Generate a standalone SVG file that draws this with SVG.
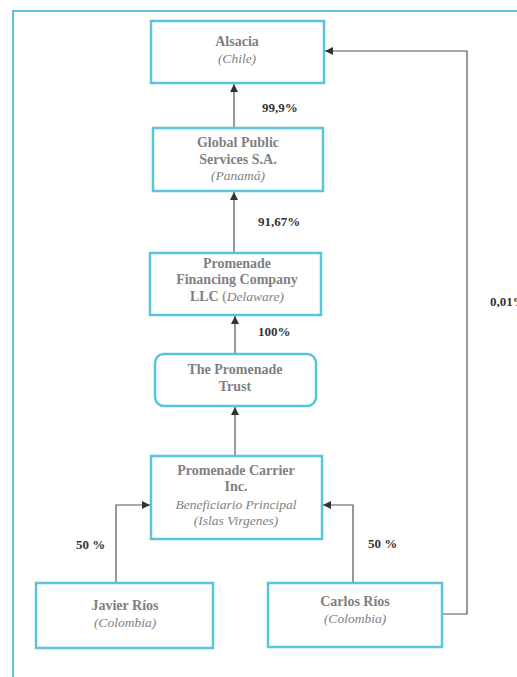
<svg xmlns="http://www.w3.org/2000/svg" width="517" height="677" viewBox="0 0 517 677">
<style>
.box{fill:#fff;stroke:#5bc4dc;stroke-width:2.5}
.t{font-family:"Liberation Serif","Times New Roman",serif;font-size:14px;fill:#7f7f7f;text-anchor:middle}
.b{font-weight:bold}
.i{font-style:italic;font-size:13.5px}
.p{font-family:"Liberation Serif","Times New Roman",serif;font-size:13px;font-weight:bold;fill:#333}
.c{fill:none;stroke:#555;stroke-width:1.2}
</style>
<defs>
<marker id="ah" viewBox="0 0 10 10" refX="10" refY="5" markerWidth="8" markerHeight="8" markerUnits="userSpaceOnUse" orient="auto">
<path d="M0,0L10,5L0,10z" fill="#333"/>
</marker>
</defs>
<rect width="517" height="677" fill="#fff"/>
<path d="M13,677V11H517" fill="none" stroke="#5bc4dc" stroke-width="2"/>
<g id="connectors">
<path class="c" d="M234,128V84" marker-end="url(#ah)"/>
<path class="c" d="M234,253V192" marker-end="url(#ah)"/>
<path class="c" d="M235,354V316" marker-end="url(#ah)"/>
<path class="c" d="M235,456V407" marker-end="url(#ah)"/>
<path class="c" d="M116,583V505H150" marker-end="url(#ah)"/>
<path class="c" d="M353,583V505H323" marker-end="url(#ah)"/>
<path class="c" d="M442,614H467V51H325" marker-end="url(#ah)"/>
<text class="p" x="262" y="112">99,9%</text>
<text class="p" x="258" y="226">91,67%</text>
<text class="p" x="258" y="336">100%</text>
<text class="p" x="76" y="549">50 %</text>
<text class="p" x="368" y="548">50 %</text>
<text class="p" x="490" y="306">0,01%</text>
</g>
<g id="alsacia">
<rect class="box" x="151" y="21" width="173" height="62"/>
<text class="t b" x="237" y="46">Alsacia</text>
<text class="t i" x="237" y="63">(Chile)</text>
</g>
<g id="global">
<rect class="box" x="153" y="128" width="170" height="63"/>
<text class="t b" x="238" y="147">Global Public</text>
<text class="t b" x="238" y="164">Services S.A.</text>
<text class="t i" x="238" y="180">(Panamá)</text>
</g>
<g id="financing">
<rect class="box" x="150" y="253" width="171" height="62"/>
<text class="t b" x="237" y="268">Promenade</text>
<text class="t b" x="237" y="284">Financing Company</text>
<text class="t" x="237" y="301"><tspan class="b">LLC</tspan> (<tspan class="i">Delaware)</tspan></text>
</g>
<g id="trust">
<rect class="box" x="155" y="354" width="161" height="52" rx="9"/>
<text class="t b" x="235" y="374">The Promenade</text>
<text class="t b" x="235" y="391">Trust</text>
</g>
<g id="carrier">
<rect class="box" x="151" y="456" width="171" height="83"/>
<text class="t b" x="236" y="475">Promenade Carrier</text>
<text class="t b" x="236" y="491">Inc.</text>
<text class="t i" x="236" y="509">Beneficiario Principal</text>
<text class="t i" x="236" y="525">(Islas Virgenes)</text>
</g>
<g id="javier">
<rect class="box" x="36" y="583" width="177" height="65"/>
<text class="t b" x="125" y="610">Javier Ríos</text>
<text class="t i" x="125" y="627">(Colombia)</text>
</g>
<g id="carlos">
<rect class="box" x="268" y="583" width="174" height="64"/>
<text class="t b" x="355" y="606">Carlos Ríos</text>
<text class="t i" x="355" y="623">(Colombia)</text>
</g>
</svg>
